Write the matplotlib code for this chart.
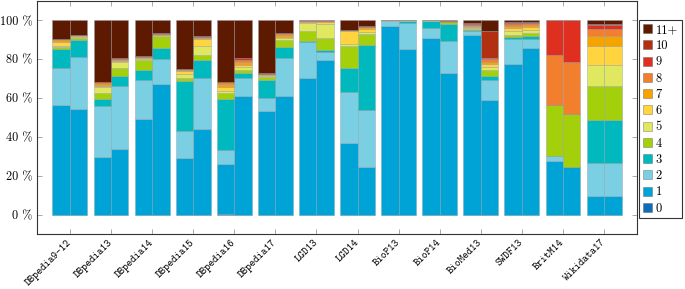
import numpy as np
import matplotlib
matplotlib.use("Agg")
import matplotlib.pyplot as plt
from matplotlib.patches import Patch


# ------------ data -----------------------------------------------------
datasets = ["DBpedia9-12", "DBpedia13", "DBpedia14", "DBpedia15", "DBpedia16",
            "DBpedia17", "LGD13", "LGD14", "BioP13", "BioP14", "BioMed13",
            "SWDF13", "BritM14", "Wikidata17"]
levels = ["0", "1", "2", "3", "4", "5", "6", "7", "8", "9", "10", "11+"]
colors = ["#0d6db8", "#00a3d5", "#7acfe3", "#00b9bf", "#a3cf0b", "#dfe85f",
          "#ffd43f", "#f6a300", "#f27f2e", "#df2f1f", "#b22f12", "#5e1a00"]

# share (%) per level, two bars per dataset (left, right)
lvl0 = [0, 0, 0, 0, 0, 0, 0, 0, 0.3, 0, 0, 0, 0, 0,
        0, 0, 0, 0, 0, 0, 0, 0, 0, 0, 0, 0, 0, 0]
lvl1 = [56.2, 54.2, 29.6, 33.8, 49.4, 67.2, 29.2, 44.1, 25.7, 61.0, 53.5, 61.0, 70.3, 79.7,
        37.1, 24.6, 97.1, 85.1, 90.8, 73.0, 92.5, 58.8, 77.3, 86.0, 27.7, 24.3, 9.4, 9.4]
lvl2 = [19.5, 27.2, 26.5, 32.5, 20.0, 12.8, 13.9, 26.0, 7.5, 9.1, 6.7, 19.5, 18.8, 3.9,
        26.0, 29.4, 2.6, 13.5, 5.3, 16.2, 1.9, 10.6, 13.0, 4.6, 2.4, 0, 17.3, 17.3]
lvl3 = [9.6, 8.7, 3.4, 5.3, 5.0, 5.6, 25.8, 9.7, 26.2, 2.7, 9.0, 5.7, 0.3, 1.0,
        12.6, 33.4, 0.1, 1.1, 3.4, 9.1, 0.5, 2.2, 1.3, 1.2, 0, 0, 22.2, 22.2]
lvl4 = [1.0, 0.7, 3.1, 4.1, 5.4, 6.5, 1.5, 2.6, 3.0, 1.9, 1.9, 3.7, 5.0, 6.2,
        11.0, 5.4, 0.1, 0.2, 0.3, 0.7, 0.5, 2.9, 0.9, 1.5, 26.1, 27.5, 17.1, 17.1]
lvl5 = [0.7, 0.8, 2.9, 2.8, 0.4, 0.3, 2.1, 4.6, 1.1, 1.2, 0.5, 1.0, 4.1, 7.3,
        1.2, 1.0, 0.1, 0.1, 0.1, 0.3, 0.7, 1.7, 2.0, 1.6, 0, 0, 10.8, 10.8]
lvl6 = [2.1, 0.5, 0.7, 0.5, 0.4, 0.3, 1.3, 3.4, 2.0, 1.0, 0.4, 0.7, 0.6, 0.9,
        6.8, 1.8, 0, 0, 0.1, 0.1, 0.7, 1.4, 1.6, 1.5, 0, 0, 10.0, 10.0]
lvl7 = [0.6, 0.2, 0.8, 0.7, 0.4, 0.2, 0.7, 0.7, 1.2, 1.9, 0.3, 0.9, 0.6, 0.5,
        0.3, 0.8, 0, 0, 0, 0.1, 0.5, 1.2, 1.2, 1.2, 0, 0, 5.3, 5.3]
lvl8 = [0.6, 0.2, 1.2, 0.6, 0.4, 0.3, 0.5, 0.5, 1.2, 0.7, 0.2, 1.0, 0.2, 0.3,
        0.2, 0.4, 0, 0, 0, 0.2, 0.5, 1.4, 1.0, 1.0, 25.9, 26.7, 3.5, 3.5]
lvl9 = [0.1, 0, 0.2, 0.1, 0.1, 0.1, 0.1, 0.1, 0.1, 1.3, 0.1, 0.1, 0.1, 0.2,
        0, 0.1, 0, 0, 0, 0.1, 0.3, 0.5, 0.5, 0.2, 17.9, 21.5, 1.8, 1.8]
lvl10 = [0.1, 0, 0.1, 0.1, 0.1, 0.1, 0.1, 0.1, 0.1, 0.1, 0.1, 0.1, 0, 0,
         0, 0, 0, 0, 0, 0.2, 0.4, 13.7, 0.5, 0.2, 0, 0, 0.7, 0.7]
lvl11 = [9.5, 7.5, 31.5, 19.5, 18.4, 6.6, 24.8, 8.2, 31.6, 19.1, 27.3, 6.3, 0, 0,
         4.8, 3.1, 0, 0, 0, 0, 1.5, 5.6, 0.7, 1.0, 0, 0, 1.9, 1.9]

series = [lvl0, lvl1, lvl2, lvl3, lvl4, lvl5, lvl6, lvl7, lvl8, lvl9, lvl10, lvl11]
yticks = [0, 20, 40, 60, 80, 100]


# ------------ plot -----------------------------------------------------
fig = plt.figure(figsize=(6.85, 2.89), dpi=100)
ax = fig.add_axes([37 / 685, 55 / 289, 600 / 685, 233 / 289])

width = 0.425
centers = np.arange(len(datasets))
xpos = np.empty(2 * len(datasets))
xpos[0::2] = centers - width / 2
xpos[1::2] = centers + width / 2

bottom = np.zeros(len(xpos))
for vals, col in zip(series, colors):
    vals = np.array(vals, dtype=float)
    ax.bar(xpos, vals, width, bottom=bottom, color=col,
           edgecolor=(0.55, 0.6, 0.65, 0.45), linewidth=0.6)
    bottom += vals

ax.set_xlim(-0.8, len(datasets) - 0.2)
ax.set_ylim(-10, 110)

ax.set_yticks(yticks)
ax.set_yticklabels([f"{v} %" for v in yticks], fontfamily="cmr10", fontsize=8.8)
ax.set_xticks(centers)
ax.set_xticklabels(datasets, rotation=45, ha="right", va="center",
                   rotation_mode="anchor", fontfamily="cmtt10", fontsize=7.6)

ax.tick_params(direction="in", length=3.5, width=0.6, color="#9a9a9a",
               top=True, right=True)
ax.tick_params(axis="y", pad=3.5)
ax.tick_params(axis="x", pad=5)
for sp in ax.spines.values():
    sp.set_linewidth(0.8)
    sp.set_color("#333333")

handles = [Patch(facecolor=c, edgecolor=(0.3, 0.3, 0.3, 0.5), linewidth=0.5, label=l)
           for c, l in zip(colors, levels)][::-1]
leg = ax.legend(handles=handles, loc="upper left", bbox_to_anchor=(1.003, 0.918),
                borderaxespad=0, frameon=True, fancybox=False, handlelength=0.75,
                handleheight=0.75, handletextpad=0.3, labelspacing=0.33,
                borderpad=0.3, prop={"family": "cmr10", "size": 9})
leg.get_frame().set_edgecolor("black")
leg.get_frame().set_linewidth(0.8)

fig.savefig("out.png", dpi=100)
